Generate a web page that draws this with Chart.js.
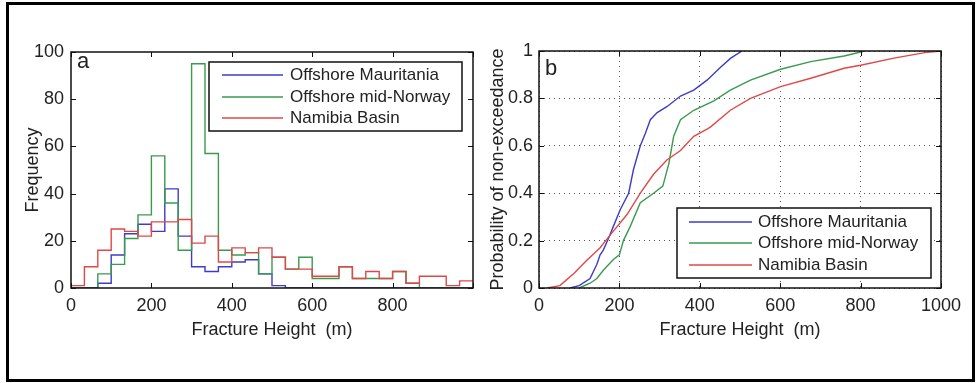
<!DOCTYPE html>
<html>
<head>
<meta charset="utf-8">
<script src="https://cdn.jsdelivr.net/npm/chart.js@4.4.1/dist/chart.umd.min.js"></script>
<style>
  body { margin: 0; background: #fff; }
  #page { position: relative; width: 979px; height: 383px; overflow: hidden; }
  #border { position: absolute; left: 6px; top: 2px; width: 969px; height: 380px; border: 3px solid #000; box-sizing: border-box; }
  .panel { position: absolute; top: 0; height: 383px; }
</style>
</head>
<body>
<div id="page">
  <div id="border"></div>
  <div class="panel" style="left:0;width:490px"><canvas id="histChart"></canvas></div>
  <div class="panel" style="left:480px;width:499px"><canvas id="cdfChart"></canvas></div>
</div>
<script>
const seriesNames = ['Offshore Mauritania', 'Offshore mid-Norway', 'Namibia Basin'];
const seriesColors = ['#3c3cc8', '#3a9a4e', '#e04848'];

// panel a: counts per bin, 30 bins from 0 to 1000 m
const histMauritania = [0, 0, 2, 14, 23, 27, 24, 42, 22, 9, 7, 9, 11, 12, 6, 1, 0, 0, 0, 0, 0, 0, 0, 0, 0, 0, 0, 0, 0, 0];
const histNorway = [0, 0, 6, 10, 21, 31, 56, 36, 16, 95, 57, 16, 14, 15, 6, 13, 8, 13, 4, 4, 9, 4, 4, 4, 7, 2, 0, 0, 0, 0];
const histNamibia = [1, 9, 16, 25, 24, 22, 28, 28, 29, 19, 22, 11, 17, 15, 17, 13, 8, 8, 5, 5, 9, 4, 7, 4, 7, 2, 5, 5, 1, 3];
const binWidth = 1000 / 30;

// panel b: probability of non-exceedance
const cdfMauritaniaX = [77, 100, 127, 144, 152, 160, 173, 185, 202, 223, 235, 252, 264, 277, 294, 318, 352, 385, 418, 451, 477, 505];
const cdfMauritaniaY = [0, 0.01, 0.04, 0.10, 0.14, 0.16, 0.21, 0.26, 0.33, 0.40, 0.50, 0.60, 0.65, 0.71, 0.74, 0.765, 0.81, 0.835, 0.877, 0.93, 0.97, 1.0];
const cdfNorwayX = [100, 127, 144, 160, 185, 200, 210, 227, 252, 285, 308, 323, 335, 352, 385, 435, 476, 526, 601, 676, 759, 810];
const cdfNorwayY = [0, 0.02, 0.04, 0.075, 0.12, 0.14, 0.20, 0.26, 0.36, 0.40, 0.43, 0.525, 0.64, 0.71, 0.75, 0.79, 0.835, 0.877, 0.923, 0.955, 0.979, 1.0];
const cdfNamibiaX = [20, 52, 86, 119, 152, 185, 219, 252, 285, 318, 352, 385, 418, 427, 476, 526, 601, 676, 759, 800, 883, 967, 1000];
const cdfNamibiaY = [0, 0.01, 0.06, 0.117, 0.17, 0.24, 0.31, 0.40, 0.48, 0.54, 0.58, 0.64, 0.67, 0.68, 0.75, 0.80, 0.85, 0.885, 0.927, 0.94, 0.97, 0.995, 1.0];

const FONT = "'Liberation Sans', Arial, sans-serif";
Chart.defaults.font.family = FONT;
Chart.defaults.color = '#222';

function histPoints(counts) {
  const pts = counts.map((c, i) => ({ x: i * binWidth, y: c }));
  pts.push({ x: 1000, y: counts[counts.length - 1] });
  return pts;
}
function curvePoints(xs, ys) {
  return xs.map((x, i) => ({ x: x, y: ys[i] }));
}
// plain numbers like matlab: 1000 not 1,000 and 1 not 1.0
const plain = v => String(Number(v.toFixed(2)));

// box around the axes, inward ticks, panel letter and legend
const framePlugin = {
  id: 'frame',
  afterDatasetsDraw(chart, args, opts) {
    const { ctx, chartArea: a, scales: { x, y } } = chart;
    ctx.save();
    ctx.strokeStyle = '#111';
    ctx.lineWidth = 1;
    x.ticks.forEach(t => {
      const px = Math.round(x.getPixelForValue(t.value)) + 0.5;
      ctx.beginPath();
      ctx.moveTo(px, a.bottom); ctx.lineTo(px, a.bottom - 5);
      ctx.moveTo(px, a.top); ctx.lineTo(px, a.top + 5);
      ctx.stroke();
    });
    y.ticks.forEach(t => {
      const py = Math.round(y.getPixelForValue(t.value)) + 0.5;
      ctx.beginPath();
      ctx.moveTo(a.left, py); ctx.lineTo(a.left + 5, py);
      ctx.moveTo(a.right, py); ctx.lineTo(a.right - 5, py);
      ctx.stroke();
    });
    ctx.lineWidth = 1.5;
    ctx.strokeRect(a.left, a.top, a.right - a.left, a.bottom - a.top);

    ctx.fillStyle = '#222';
    ctx.font = '22px ' + FONT;
    ctx.textBaseline = 'alphabetic';
    ctx.fillText(opts.letter, a.left + opts.letterDx, a.top + opts.letterDy);

    const L = opts.legend;
    ctx.fillStyle = '#fff';
    ctx.fillRect(L.left, L.top, L.width, L.height);
    ctx.lineWidth = 1.5;
    ctx.strokeStyle = '#111';
    ctx.strokeRect(L.left, L.top, L.width, L.height);
    ctx.font = '17px ' + FONT;
    ctx.textBaseline = 'middle';
    seriesNames.forEach((name, i) => {
      const ry = L.top + L.rows[i];
      ctx.strokeStyle = seriesColors[i];
      ctx.lineWidth = 1.4;
      ctx.beginPath();
      ctx.moveTo(L.left + L.line0, ry); ctx.lineTo(L.left + L.line1, ry);
      ctx.stroke();
      ctx.fillStyle = '#222';
      ctx.fillText(name, L.left + L.text, ry);
    });
    ctx.restore();
  }
};

function axisOpts(min, max, step, title, cfg) {
  return {
    type: 'linear',
    min: min, max: max,
    grid: cfg.grid || { display: false, drawTicks: false },
    border: cfg.border || { display: false },
    ticks: {
      stepSize: step, font: { size: 18 }, color: '#222', maxRotation: 0, autoSkip: false,
      padding: cfg.tickPad, callback: cfg.callback || plain
    },
    title: { display: true, text: title, font: { size: 18 }, color: '#222', padding: cfg.titlePad },
    afterFit: cfg.fit
  };
}

const histDatasets = [histMauritania, histNorway, histNamibia].map((d, i) => ({
  label: seriesNames[i],
  data: histPoints(d),
  borderColor: seriesColors[i],
  borderWidth: 1.4,
  pointRadius: 0,
  stepped: true,
  fill: false,
  order: 2 - i
}));

new Chart(document.getElementById('histChart'), {
  type: 'line',
  data: { datasets: histDatasets },
  options: {
    responsive: true,
    maintainAspectRatio: false,
    animation: false,
    layout: { padding: { left: 0, top: 52, right: 17, bottom: 42 } },
    plugins: {
      legend: { display: false },
      tooltip: { enabled: false },
      frame: {
        letter: 'a', letterDx: 6, letterDy: 16,
        legend: { left: 209, top: 62, width: 253, height: 69, line0: 13, line1: 74, text: 81, rows: [13, 35, 56] }
      }
    },
    scales: {
      x: axisOpts(0, 1000, 200, 'Fracture Height  (m)', {
        tickPad: 7, titlePad: { top: 0, bottom: 0 },
        callback: v => (v >= 1000 ? '' : plain(v)),
        fit: s => { s.height = 53; }
      }),
      y: axisOpts(0, 100, 20, 'Frequency', {
        tickPad: 7, titlePad: { top: 22, bottom: 0 },
        fit: s => { s.width = 71; }
      })
    }
  },
  plugins: [framePlugin]
});

const cdfDatasets = [
  curvePoints(cdfMauritaniaX, cdfMauritaniaY),
  curvePoints(cdfNorwayX, cdfNorwayY),
  curvePoints(cdfNamibiaX, cdfNamibiaY)
].map((d, i) => ({
  label: seriesNames[i],
  data: d,
  borderColor: seriesColors[i],
  borderWidth: 1.4,
  pointRadius: 0,
  tension: 0,
  fill: false,
  order: 2 - i
}));

const dotted = { display: true, drawTicks: false, color: '#555', lineWidth: 1 };
new Chart(document.getElementById('cdfChart'), {
  type: 'line',
  data: { datasets: cdfDatasets },
  options: {
    responsive: true,
    maintainAspectRatio: false,
    animation: false,
    layout: { padding: { left: 0, top: 51, right: 38, bottom: 42 } },
    plugins: {
      legend: { display: false },
      tooltip: { enabled: false },
      frame: {
        letter: 'b', letterDx: 6, letterDy: 24,
        legend: { left: 197, top: 208, width: 254, height: 70, line0: 12, line1: 75, text: 81, rows: [14, 35, 57] }
      }
    },
    scales: {
      x: axisOpts(0, 1000, 200, 'Fracture Height  (m)', {
        grid: dotted, border: { display: false, dash: [1, 4] },
        tickPad: 7, titlePad: { top: 0, bottom: 0 },
        fit: s => { s.height = 53; }
      }),
      y: axisOpts(0, 1, 0.2, 'Probability of non-exceedance', {
        grid: dotted, border: { display: false, dash: [1, 4] },
        tickPad: 6, titlePad: { top: 7, bottom: 0 },
        fit: s => { s.width = 59; }
      })
    }
  },
  plugins: [framePlugin]
});
</script>
</body>
</html>
